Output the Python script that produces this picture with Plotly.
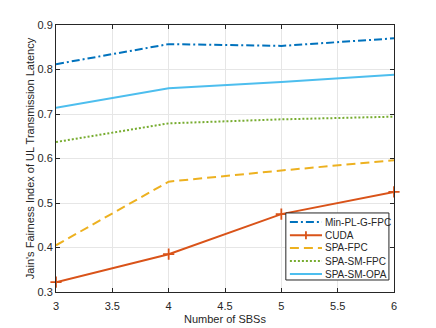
import plotly.graph_objects as go

x_sbs = [3, 4, 5, 6]
min_pl_g_fpc = [0.812, 0.857, 0.853, 0.870]
cuda = [0.322, 0.385, 0.475, 0.525]
spa_fpc = [0.405, 0.548, 0.573, 0.596]
spa_sm_fpc = [0.637, 0.679, 0.688, 0.694]
spa_sm_opa = [0.714, 0.758, 0.772, 0.788]
legend_names = ["Min-PL-G-FPC", "CUDA", "SPA-FPC", "SPA-SM-FPC", "SPA-SM-OPA"]

colors = ["#0072BD", "#D95319", "#EDB120", "#77AC30", "#4DBEEE"]
dashes = ["8px,3px,2px,3px", "solid", "9px,5px", "2px,2px", "solid"]
values = [min_pl_g_fpc, cuda, spa_fpc, spa_sm_fpc, spa_sm_opa]
has_marker = [False, True, False, False, False]

fig = go.Figure()
for name, ys, color, dash, marker in zip(legend_names, values, colors, dashes, has_marker):
    fig.add_trace(go.Scatter(
        x=x_sbs, y=ys, name=name, showlegend=False,
        mode="lines+markers" if marker else "lines",
        line=dict(color=color, width=2, dash=dash),
        marker=dict(symbol="cross-thin", size=8, line=dict(color=color, width=1.8)) if marker else None,
        cliponaxis=False,
    ))

# custom legend (MATLAB-like compact box)
lx0, lx1, ly0, ly1 = 0.680, 0.985, 0.045, 0.296
shapes = [dict(type="rect", xref="paper", yref="paper", x0=lx0, x1=lx1, y0=ly0, y1=ly1,
               line=dict(color="#262626", width=1), fillcolor="white", layer="above")]
annotations = []
entry_y = [0.262, 0.213, 0.165, 0.116, 0.067]
sx0, sx1, tx = 0.692, 0.787, 0.790
for name, color, dash, marker, ey in zip(legend_names, colors, dashes, has_marker, entry_y):
    shapes.append(dict(type="line", xref="paper", yref="paper", x0=sx0, x1=sx1, y0=ey, y1=ey,
                       line=dict(color=color, width=2, dash=dash), layer="above"))
    if marker:
        cx = (sx0 + sx1) / 2
        dy = 4 / 267
        shapes.append(dict(type="line", xref="paper", yref="paper", x0=cx, x1=cx, y0=ey - dy, y1=ey + dy,
                           line=dict(color=color, width=1.8), layer="above"))
    annotations.append(dict(xref="paper", yref="paper", x=tx, y=ey, text=name, showarrow=False,
                            xanchor="left", yanchor="middle", font=dict(size=10, color="#262626")))

axis_common = dict(
    showline=True, linecolor="#262626", linewidth=1, mirror="ticks",
    ticks="inside", ticklen=4, tickcolor="#262626",
    showgrid=True, gridcolor="#E6E6E6", gridwidth=1,
    zeroline=False, tickfont=dict(size=11, color="#262626"),
    automargin=False,
)

fig.update_layout(
    width=428, height=320,
    margin=dict(l=48, r=42, t=17, b=36),
    paper_bgcolor="white", plot_bgcolor="white",
    font=dict(family="Liberation Sans, Arial, sans-serif", size=11, color="#262626"),
    xaxis=dict(range=[3, 6], dtick=0.5, ticklabelstandoff=4,
               title=dict(text="Number of SBSs", font=dict(size=11), standoff=4), **axis_common),
    yaxis=dict(range=[0.3, 0.9], dtick=0.1,
               title=dict(text="Jain's Fairness Index of UL Transmission Latency", font=dict(size=11), standoff=0), **axis_common),
    shapes=shapes, annotations=annotations,
    showlegend=False,
)

fig.write_html("out.html")
